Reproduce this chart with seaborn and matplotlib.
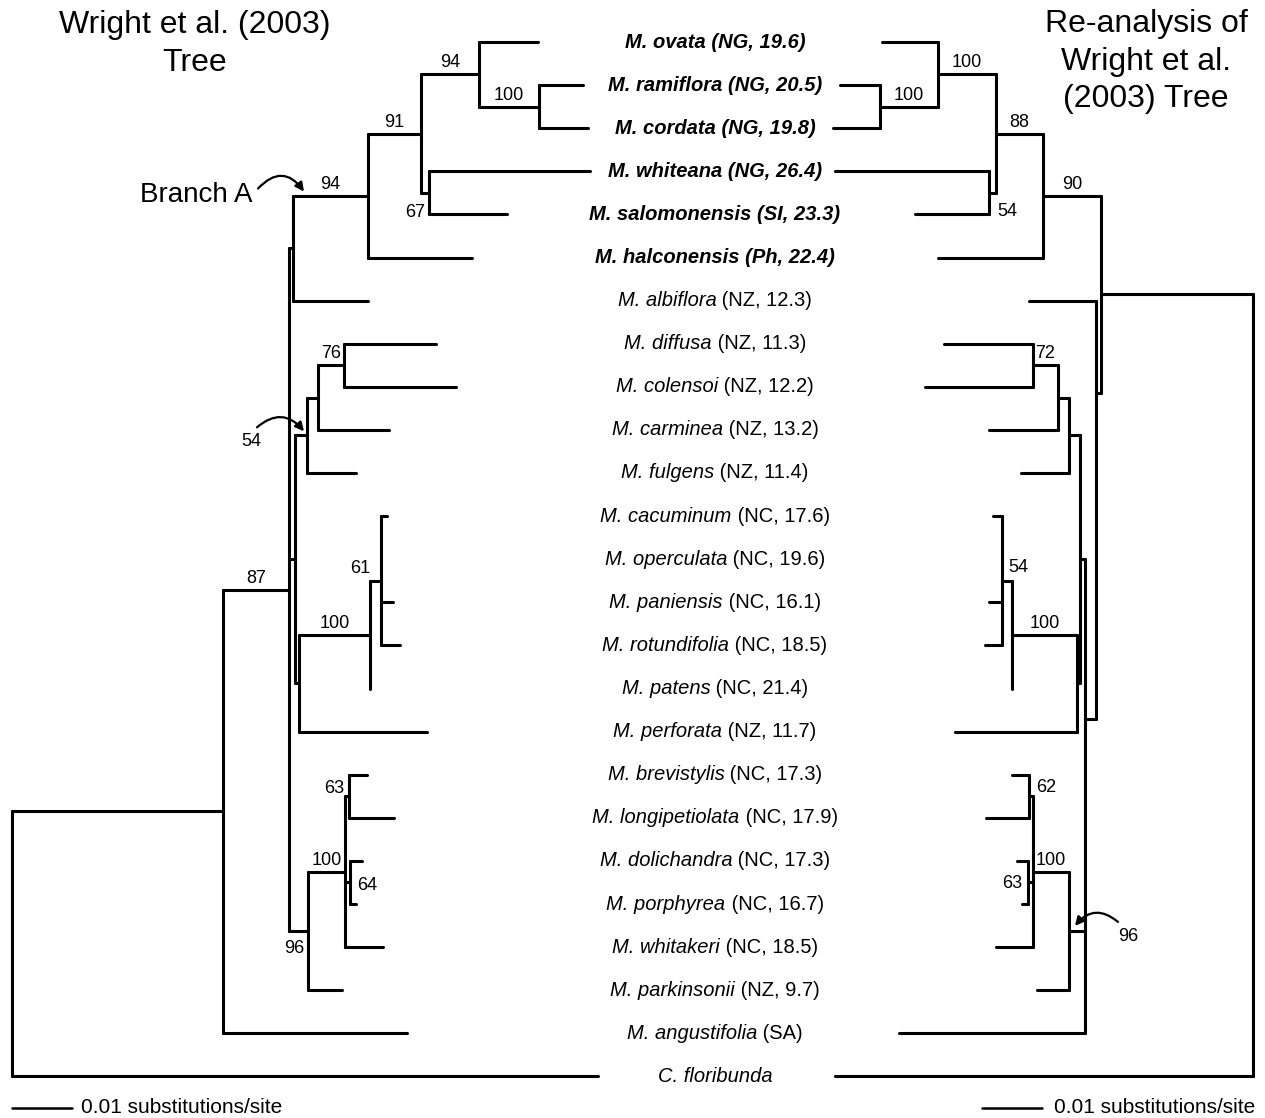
import numpy as np
import pandas as pd
import matplotlib
matplotlib.use("Agg")
import matplotlib.pyplot as plt
import matplotlib.transforms as mtransforms
from matplotlib.offsetbox import TextArea, HPacker, AnnotationBbox
import seaborn as sns

# ---- data -------------------------------------------------------------
# taxa, top to bottom (row index = position in list)
taxa = ["M. ovata", "M. ramiflora", "M. cordata", "M. whiteana", "M. salomonensis",
        "M. halconensis", "M. albiflora", "M. diffusa", "M. colensoi", "M. carminea",
        "M. fulgens", "M. cacuminum", "M. operculata", "M. paniensis", "M. rotundifolia",
        "M. patens", "M. perforata", "M. brevistylis", "M. longipetiolata",
        "M. dolichandra", "M. porphyrea", "M. whitakeri", "M. parkinsonii",
        "M. angustifolia", "C. floribunda"]
taxa_info = ["NG, 19.6", "NG, 20.5", "NG, 19.8", "NG, 26.4", "SI, 23.3", "Ph, 22.4",
             "NZ, 12.3", "NZ, 11.3", "NZ, 12.2", "NZ, 13.2", "NZ, 11.4", "NC, 17.6",
             "NC, 19.6", "NC, 16.1", "NC, 18.5", "NC, 21.4", "NZ, 11.7", "NC, 17.3",
             "NC, 17.9", "NC, 17.3", "NC, 16.7", "NC, 18.5", "NZ, 9.7", "SA", ""]
n_bold = 6

# distance from root (60 units = 0.01 substitutions/site)
scale_len = 60
left_tip_depth = [526, 571, 576, 578, 495, 460, 356, 424, 444, 377, 344, 375, 369,
                  381, 388, 358, 415, 355, 382, 350, 344, 371, 330, 395, 586]
right_tip_depth = [371, 413, 420, 418, 338, 315, 224, 309, 328, 264, 232, 260, 251,
                   264, 268, 241, 298, 241, 267, 236, 231, 257, 216, 354, 418]

# internal nodes: name -> (depth, children, bootstrap)
left_nodes = {
    "root":  (0,   ["n1", 24], ""),
    "n1":    (211, ["n87", 23], ""),
    "n87":   (277, ["nA", "n2", "n96"], "87"),
    "nA":    (281, ["nBA", 6], ""),
    "nBA":   (356, ["n91", 5], "94"),
    "n91":   (409, ["n94", "n67"], "91"),
    "n94":   (467, [0, "n100"], "94"),
    "n100":  (527, [1, 2], "100"),
    "n67":   (417, [3, 4], "67"),
    "n2":    (283, ["n54", "n3"], ""),
    "n54":   (295, ["nC", 10], "54"),
    "nC":    (306, ["n76", 9], ""),
    "n76":   (332, [7, 8], "76"),
    "n3":    (287, ["n100b", 16], ""),
    "n100b": (358, ["n61", 15], "100"),
    "n61":   (369, [11, 12, 13, 14], "61"),
    "n96":   (296, ["n100c", 22], "96"),
    "n100c": (333, ["n63", "n64", 21], "100"),
    "n63":   (337, [17, 18], "63"),
    "n64":   (338, [19, 20], "64"),
}
right_nodes = {
    "root":  (0,   ["nin", 24], ""),
    "nin":   (152, ["n90", "nx"], ""),
    "n90":   (210, ["n88", 5], "90"),
    "n88":   (257, ["n100a", "n54"], "88"),
    "n100a": (315, [0, "n100b"], "100"),
    "n100b": (373, [1, 2], "100"),
    "n54":   (264, [3, 4], "54"),
    "nx":    (157, [6, "ny"], ""),
    "ny":    (168, ["nw", "n96", 23], ""),
    "nw":    (173, ["nf", "n3"], ""),
    "nf":    (184, ["nc", 10], ""),
    "nc":    (195, ["n72", 9], ""),
    "n72":   (220, [7, 8], "72"),
    "n3":    (176, ["n100", 16], ""),
    "n100":  (241, ["n54b", 15], "100"),
    "n54b":  (251, [11, 12, 13, 14], "54"),
    "n96":   (184, ["n100c", 22], "96"),
    "n100c": (220, ["n62", "n63", 21], "100"),
    "n62":   (224, [17, 18], "62"),
    "n63":   (225, [19, 20], "63"),
}
left_attach = {}
right_attach = {"nx": 8.14, "ny": 15.71}

# ---- layout -----------------------------------------------------------
W, H = 1265, 1118
ROW0, ROWSTEP = 42, 43.1
LEFT_ROOT, RIGHT_ROOT = 12, 1253
LABEL_X = 715


def layout(nodes, tip_depth, attach, root_x, sign):
    pos, segs = {}, []

    def walk(name, parent_x):
        if isinstance(name, int):
            pos[name] = (root_x + sign * tip_depth[name], name, parent_x)
            return pos[name]
        depth, kids, _ = nodes[name]
        x = root_x + sign * depth
        ys = []
        for k in kids:
            kx, ky, _ = walk(k, x)
            ys.append(ky)
            if kx != x:
                segs.append(((x, ky), (kx, ky)))
        y = attach.get(name, (ys[0] + ys[-1]) / 2)
        segs.append(((x, min(ys + [y])), (x, max(ys + [y]))))
        pos[name] = (x, y, parent_x)
        return pos[name]

    walk("root", root_x)
    return pos, segs


lpos, lsegs = layout(left_nodes, left_tip_depth, left_attach, LEFT_ROOT, 1)
rpos, rsegs = layout(right_nodes, right_tip_depth, right_attach, RIGHT_ROOT, -1)

rows = []
for i, (a, b) in enumerate(lsegs + rsegs):
    rows.append((i, a[0], a[1]))
    rows.append((i, b[0], b[1]))
seg_df = pd.DataFrame(rows, columns=["seg", "x", "y"])

# ---- plot -------------------------------------------------------------
sns.set_style("white")
plt.rcParams["font.family"] = ["Liberation Sans", "DejaVu Sans"]
plt.rcParams["text.color"] = "black"

fig = plt.figure(figsize=(W / 100, H / 100), dpi=100)
ax = fig.add_axes([0, 0, 1, 1])
sns.lineplot(data=seg_df, x="x", y="y", units="seg", estimator=None, sort=False,
             color="black", lw=2.2, ax=ax, legend=False)
ax.set_xlim(0, W)
ax.set_ylim((H - ROW0) / ROWSTEP, -ROW0 / ROWSTEP)
ax.axis("off")

# taxon names in the middle
LAB_FS = 14.5
for i, (name, info) in enumerate(zip(taxa, taxa_info)):
    if i < n_bold:
        parts = [TextArea(f"{name} ({info})",
                          textprops=dict(fontweight="bold", style="italic",
                                         fontsize=LAB_FS, color="black"))]
    else:
        parts = [TextArea(name, textprops=dict(style="italic", fontsize=LAB_FS,
                                               color="black"))]
        if info:
            parts.append(TextArea(f" ({info})", textprops=dict(fontsize=LAB_FS,
                                                              color="black")))
    box = HPacker(children=parts, align="baseline", pad=0, sep=0)
    ax.add_artist(AnnotationBbox(box, (LABEL_X, i), frameon=False,
                                 box_alignment=(0.5, 0.5), pad=0))

# bootstrap values: (dx, dy, ha) from node point; default = centred above branch
left_special = {"n61": (-11, 7.5, "right"), "n63": (-5, 3.5, "right"),
                "n64": (7, -7.5, "left"), "n96": (-4, -22.5, "right"),
                "n67": (-4, -24.5, "right"), "n54": (-46, -10.5, "right")}
right_special = {"n54": (8, -23.5, "left"), "n54b": (6, 8.5, "left"),
                 "n62": (7, 4.5, "left"), "n63": (-6, -5.5, "right"),
                 "n96": (49, -10.5, "left")}

for nodes, pos, special in [(left_nodes, lpos, left_special),
                            (right_nodes, rpos, right_special)]:
    for name, (_, _, sup) in nodes.items():
        if not sup:
            continue
        x, y, px = pos[name]
        if name in special:
            dx, dy, ha = special[name]
            ax.annotate(sup, xy=(x, y), xytext=(dx, dy), textcoords="offset pixels",
                        ha=ha, va="baseline", fontsize=13)
        else:
            ax.annotate(sup, xy=((x + px) / 2, y), xytext=(0, 7),
                        textcoords="offset pixels", ha="center", va="baseline",
                        fontsize=13)


def curved_arrow(pos_node, tip, tail, rad):
    trans = mtransforms.offset_copy(ax.transData, fig=fig, x=tip[0], y=tip[1],
                                    units="dots")
    ax.annotate("", xy=pos_node, xycoords=trans, xytext=tail,
                textcoords="offset pixels",
                arrowprops=dict(arrowstyle="-|>", connectionstyle=f"arc3,rad={rad}",
                                color="black", lw=1.6, mutation_scale=13,
                                shrinkA=0, shrinkB=0))


x, y, _ = lpos["nBA"]
curved_arrow((x, y), (-64, 4), (-46, 3), -0.6)
ax.annotate("Branch A", xy=(x, y), xytext=(-116, -6), textcoords="offset pixels",
            ha="right", va="baseline", fontsize=20)
x, y, _ = lpos["n54"]
curved_arrow((x, y), (-3, 4), (-47, 4), -0.5)
x, y, _ = rpos["n96"]
curved_arrow((x, y), (6, 5), (43, 4), 0.5)

# scale bars
sb_row = (1108 - ROW0) / ROWSTEP
ax.plot([LEFT_ROOT, LEFT_ROOT + scale_len], [sb_row, sb_row], color="black", lw=1.8)
ax.annotate("0.01 substitutions/site", xy=(LEFT_ROOT + scale_len, sb_row),
            xytext=(9, -5), textcoords="offset pixels", ha="left", va="baseline",
            fontsize=15)
ax.annotate("0.01 substitutions/site", xy=(RIGHT_ROOT, sb_row),
            xytext=(2, -5), textcoords="offset pixels", ha="right", va="baseline",
            fontsize=15)
ax.plot([RIGHT_ROOT - 211 - scale_len, RIGHT_ROOT - 211], [sb_row, sb_row],
        color="black", lw=1.8)

# titles
for txt, yb in [("Wright et al. (2003)", 33), ("Tree", 71)]:
    fig.text(195 / W, 1 - yb / H, txt, ha="center", va="baseline", fontsize=23)
for txt, yb in [("Re-analysis of", 32), ("Wright et al.", 70), ("(2003) Tree", 107)]:
    fig.text(1146 / W, 1 - yb / H, txt, ha="center", va="baseline", fontsize=23)

fig.savefig("out.png", dpi=100)
